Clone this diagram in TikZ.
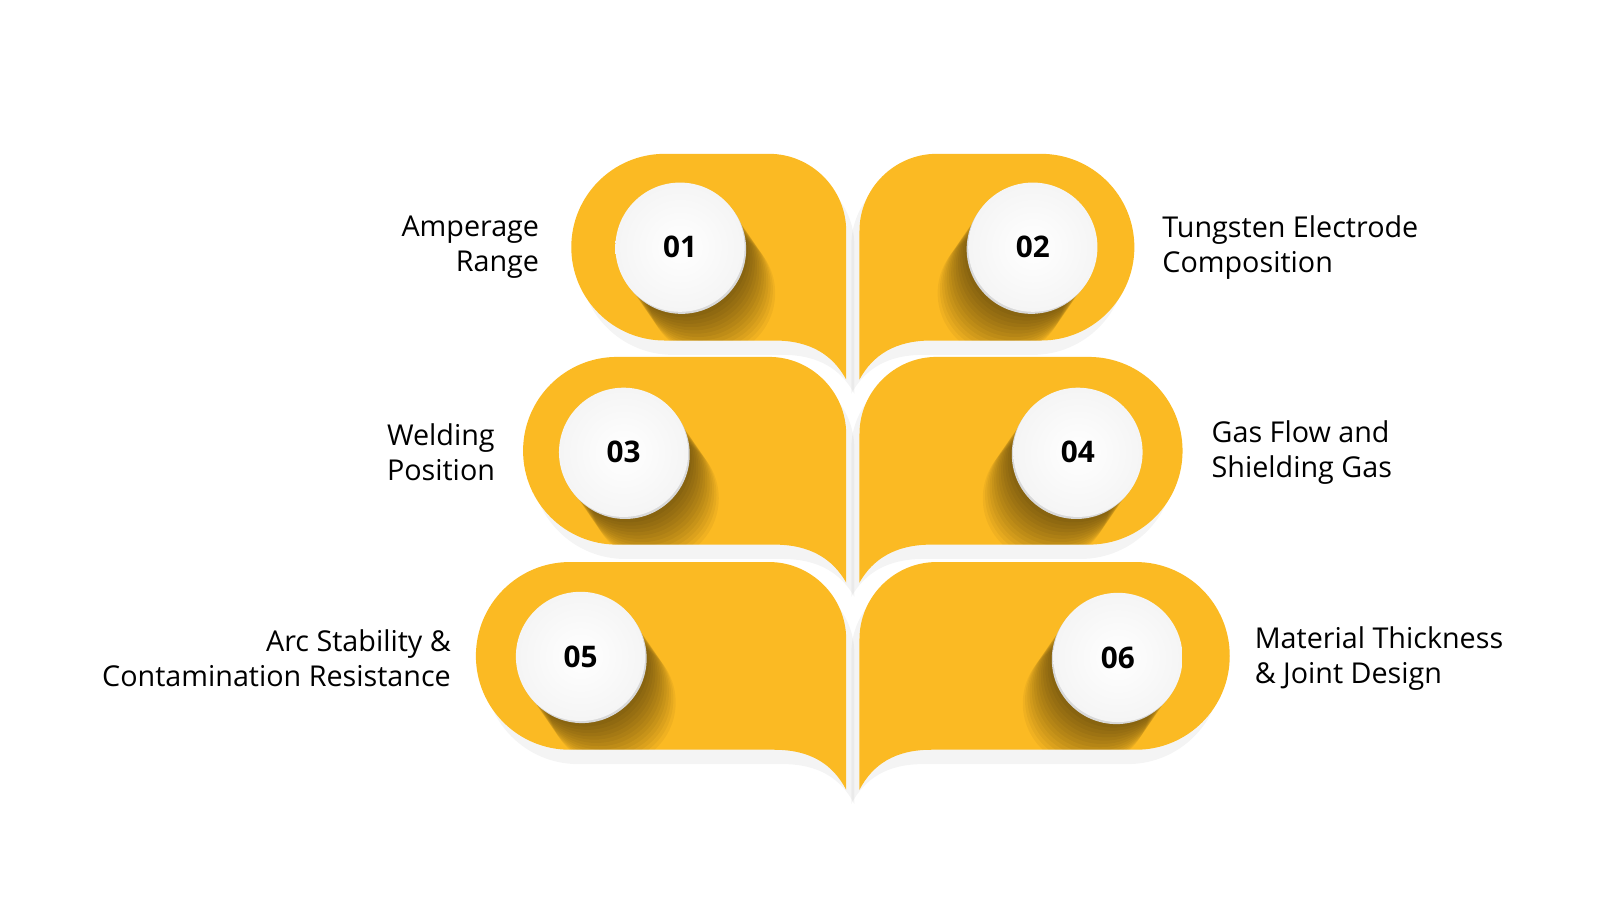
\documentclass[tikz,border=0pt]{standalone}
\usepackage{fontspec}
\setmainfont{Open Sans}
\begin{document}
\begin{tikzpicture}[x=0.5pt,y=-0.5pt,
  lbl/.style={font=\fontsize{14}{17}\selectfont, text=black, inner sep=0pt},
  num/.style={circle, minimum size=63pt, inner sep=0pt, font=\fontsize{14.5}{17}\selectfont\bfseries, text=black},
]
\definecolor{leafy}{HTML}{FBBA23}
\useasboundingbox (0,0) rectangle (1560,877.5);
\newcommand{\leafpath}[4]{% L T B P  (uses \cx \cy \ka)
  (\cx,#3) .. controls (\cx-\ka,#3) and (#1,\cy+\ka) .. (#1,\cy)
  .. controls (#1,\cy-\ka) and (\cx-\ka,#2) .. (\cx,#2)
  -- (750,#2) .. controls (791,#2) and (825,#2+34) .. (825,#2+75)
  -- (825,#4) .. controls (812,#3+14) and (790,#3) .. (755,#3) -- cycle}
\newcommand{\leaf}[6]{% L T B P circle-x circle-y
  \pgfmathsetmacro{\R}{(#3-#2)/2}
  \pgfmathsetmacro{\cx}{#1+\R}\pgfmathsetmacro{\cy}{#2+\R}
  \pgfmathsetmacro{\ka}{0.5523*\R}
  \fill[black!60,opacity=0.07] [shift={(8,14)}] \leafpath{#1}{#2}{#3}{#4};
  \fill[leafy] \leafpath{#1}{#2}{#3}{#4};
  \begin{scope}
    \clip \leafpath{#1}{#2}{#3}{#4};
    \foreach \i in {1,...,14}{\fill[black,opacity=0.045] (#5+2.2*\i,#6+3.2*\i) circle[radius=62];}
  \end{scope}
  \fill[black!15] (#5+1.5,#6+2) circle[radius=63];
  \shade[inner color=white, outer color=gray!8] (#5,#6) circle[radius=63];
}
\leaf{557}{150}{332}{370}{663}{241}
\leaf{510}{348}{531}{568}{608}{441}
\leaf{464}{548}{731}{770}{566}{640}
\begin{scope}[shift={(1663,0)},xscale=-1]
\leaf{557}{150}{332}{370}{656}{241}
\leaf{510}{348}{531}{568}{612}{441}
\leaf{464}{548}{731}{770}{573}{641}
\end{scope}
\node[num] (n1) at (663,241) {01};
\node[num] (n2) at (1007,241) {02};
\node[num] (n3) at (608,441) {03};
\node[num] (n4) at (1051,441) {04};
\node[num] (n5) at (566,640) {05};
\node[num] (n6) at (1090,641) {06};
\node[lbl, anchor=east, align=right] (t1) at (526,241) {Amperage\\Range};
\node[lbl, anchor=west, align=left] (t2) at (1133,241) {Tungsten Electrode\\Composition};
\node[lbl, anchor=east, align=left] (t3) at (483,441) {Welding\\Position};
\node[lbl, anchor=west, align=left] (t4) at (1181,441) {Gas Flow and\\Shielding Gas};
\node[lbl, anchor=east, align=right] (t5) at (440,642) {Arc Stability \&\\Contamination Resistance};
\node[lbl, anchor=west, align=left] (t6) at (1223,642) {Material Thickness\\\& Joint Design};
\end{tikzpicture}
\end{document}
